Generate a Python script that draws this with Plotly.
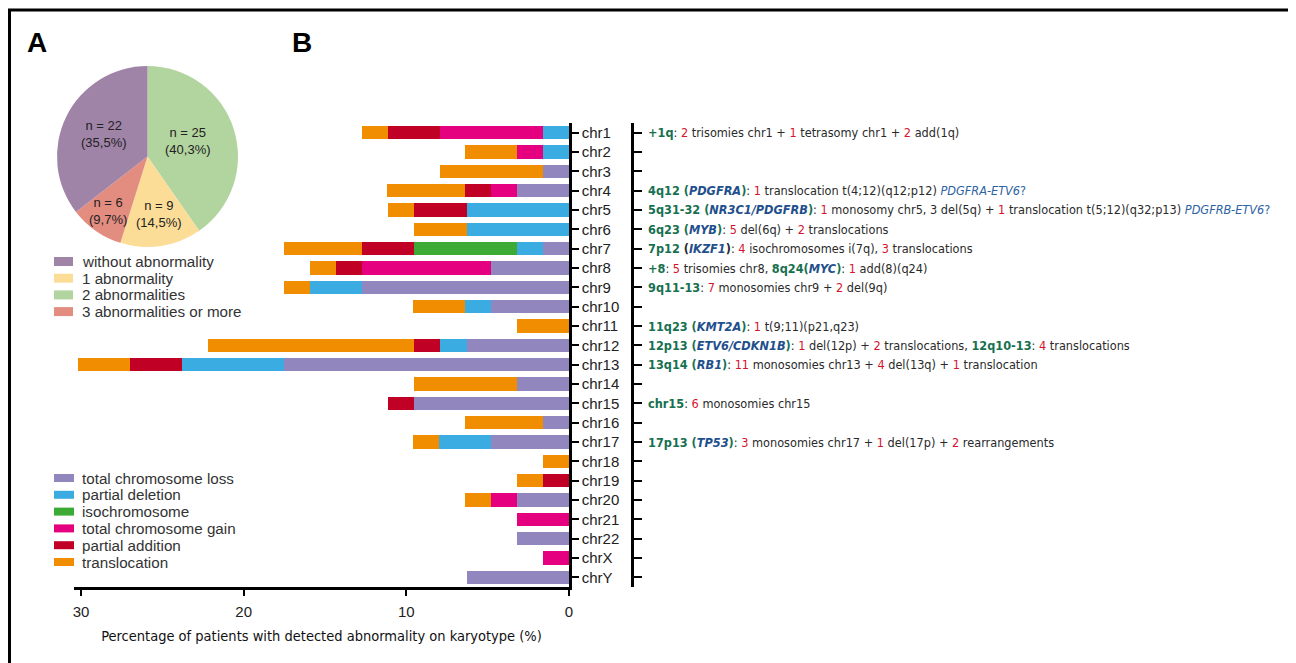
import plotly.graph_objects as go

# The page body has an 8px margin, so the figure is placed at (8, 8) in the window.
OX, OY = 8, 8
W, H = 1288, 655

# ---------------- data ----------------
chromosomes = ['chr1', 'chr2', 'chr3', 'chr4', 'chr5', 'chr6', 'chr7', 'chr8', 'chr9', 'chr10',
               'chr11', 'chr12', 'chr13', 'chr14', 'chr15', 'chr16', 'chr17', 'chr18', 'chr19',
               'chr20', 'chr21', 'chr22', 'chrX', 'chrY']

# percentage of patients per abnormality type
total_loss = [0, 0, 1.6, 3.2, 0, 0, 1.6, 4.8, 12.7, 4.8, 0, 6.3, 17.5, 3.2, 9.5, 1.6, 4.8, 0, 0, 3.2, 0, 3.2, 0, 6.3]
partial_deletion = [1.6, 1.6, 0, 0, 6.3, 6.3, 1.6, 0, 3.2, 1.6, 0, 1.6, 6.3, 0, 0, 0, 3.2, 0, 0, 0, 0, 0, 0, 0]
isochromosome = [0, 0, 0, 0, 0, 0, 6.3, 0, 0, 0, 0, 0, 0, 0, 0, 0, 0, 0, 0, 0, 0, 0, 0, 0]
total_gain = [6.3, 1.6, 0, 1.6, 0, 0, 0, 7.9, 0, 0, 0, 0, 0, 0, 0, 0, 0, 0, 0, 1.6, 3.2, 0, 1.6, 0]
partial_addition = [3.2, 0, 0, 1.6, 3.2, 0, 3.2, 1.6, 0, 0, 0, 1.6, 3.2, 0, 1.6, 0, 0, 0, 1.6, 0, 0, 0, 0, 0]
translocation = [1.6, 3.2, 6.3, 4.8, 1.6, 3.2, 4.8, 1.6, 1.6, 3.2, 3.2, 12.7, 3.2, 6.3, 0, 4.8, 1.6, 1.6, 1.6, 1.6, 0, 0, 0, 0]

bar_series = ['total chromosome loss', 'partial deletion', 'isochromosome',
              'total chromosome gain', 'partial addition', 'translocation']
bar_values = [total_loss, partial_deletion, isochromosome, total_gain, partial_addition, translocation]
bar_colors = ['#9187BE', '#3AACE2', '#3DAA35', '#E4007F', '#C10025', '#F08D00']

pie_labels = ['2 abnormalities', '1 abnormality', '3 abnormalities or more', 'without abnormality']
pie_counts = [25, 9, 6, 22]
pie_pct = ['40,3%', '14,5%', '9,7%', '35,5%']
pie_colors = ['#B2D59F', '#FCDD98', '#E28D80', '#A084A8']
pie_legend_order = ['without abnormality', '1 abnormality', '2 abnormalities', '3 abnormalities or more']

x_ticks = [0, 10, 20, 30]
x_title = 'Percentage of patients with detected abnormality on karyotype (%)'

GREEN = '#17704F'
BLUE = '#1F4F8C'
RED = '#D3142C'
FUS = '#2D63A3'


def g(t):
    return f'<span style="color:{GREEN}"><b>{t}</b></span>'


def gene(t):
    return f'<span style="color:{BLUE}"><b><i>{t}</i></b></span>'


def r(t):
    return f'<span style="color:{RED}">{t}</span>'


def fus(t):
    return f'<span style="color:{FUS}"><i>{t}</i>?</span>'


row_notes = {
    'chr1': g('+1q') + ': ' + r('2') + ' trisomies chr1 + ' + r('1') + ' tetrasomy chr1 + ' + r('2') + ' add(1q)',
    'chr4': g('4q12 (') + gene('PDGFRA') + g(')') + ': ' + r('1') + ' translocation t(4;12)(q12;p12) ' + fus('PDGFRA-ETV6'),
    'chr5': g('5q31-32 (') + gene('NR3C1/PDGFRB') + g(')') + ': ' + r('1') + ' monosomy chr5, 3 del(5q) + ' + r('1') + ' translocation t(5;12)(q32;p13) ' + fus('PDGFRB-ETV6'),
    'chr6': g('6q23 (') + gene('MYB') + g(')') + ': ' + r('5') + ' del(6q) + ' + r('2') + ' translocations',
    'chr7': g('7p12 ') + '<b>(</b>' + gene('IKZF1') + '<b>)</b>: ' + r('4') + ' isochromosomes i(7q), ' + r('3') + ' translocations',
    'chr8': g('+8') + ': ' + r('5') + ' trisomies chr8, ' + g('8q24(') + gene('MYC') + g(')') + ': ' + r('1') + ' add(8)(q24)',
    'chr9': g('9q11-13') + ': ' + r('7') + ' monosomies chr9 + ' + r('2') + ' del(9q)',
    'chr11': g('11q23 (') + gene('KMT2A') + g(')') + ': ' + r('1') + ' t(9;11)(p21,q23)',
    'chr12': g('12p13 (') + gene('ETV6/CDKN1B') + g(')') + ': ' + r('1') + ' del(12p) + ' + r('2') + ' translocations, ' + g('12q10-13') + ': ' + r('4') + ' translocations',
    'chr13': g('13q14 (') + gene('RB1') + g(')') + ': ' + r('11') + ' monosomies chr13 + ' + r('4') + ' del(13q) + ' + r('1') + ' translocation',
    'chr15': g('chr15') + ': ' + r('6') + ' monosomies chr15',
    'chr17': g('17p13 (') + gene('TP53') + g(')') + ': ' + r('3') + ' monosomies chr17 + ' + r('1') + ' del(17p) + ' + r('2') + ' rearrangements',
}


# ---------------- layout helpers (window pixels -> paper fractions) ----------------
def px(x):
    return (x - OX) / W


def py(y):
    return 1 - (y - OY) / H


SANS = 'Liberation Sans, Arimo, Arial, sans-serif'
NARROW = 'DejaVu Sans Condensed, Liberation Sans Narrow, Arial Narrow, sans-serif'

fig = go.Figure()

for name, vals, col in zip(bar_series, bar_values, bar_colors):
    fig.add_trace(go.Bar(
        y=chromosomes, x=vals, name=name, orientation='h',
        marker=dict(color=col, line=dict(width=0)),
        showlegend=False, hoverinfo='x+y+name'))

# helper trace for the secondary (annotation) axis
fig.add_trace(go.Scatter(y=chromosomes, x=[0] * len(chromosomes), yaxis='y2', mode='markers',
                         marker=dict(opacity=0, size=1), showlegend=False, hoverinfo='skip'))

fig.add_trace(go.Pie(
    labels=pie_labels, values=pie_counts, marker=dict(colors=pie_colors, line=dict(width=0)),
    sort=False, direction='clockwise', rotation=0, textinfo='none', showlegend=False,
    domain=dict(x=[px(57), px(238)], y=[py(247), py(66)]), hoverinfo='label+value'))

annotations = []
# pie labels
pie_label_pos = [(188, 140.5), (159, 213.5), (108, 210.5), (104, 134)]
for (cx, cy), n, p in zip(pie_label_pos, pie_counts, pie_pct):
    annotations.append(dict(x=px(cx), y=py(cy), xref='paper', yref='paper', showarrow=False,
                            text=f'n = {n}<br>({p})', font=dict(family=SANS, size=13, color='#222'),
                            xanchor='center', yanchor='middle', align='center'))

shapes = []
# pie legend
for i, lab in enumerate(pie_legend_order):
    yc = 261.5 + i * 16.7
    col = pie_colors[pie_labels.index(lab)]
    shapes.append(dict(type='rect', xref='paper', yref='paper', x0=px(54), x1=px(73),
                       y0=py(yc + 4.5), y1=py(yc - 4.5), fillcolor=col, line=dict(width=0)))
    annotations.append(dict(x=px(80), y=py(yc), xref='paper', yref='paper', showarrow=False,
                            text=lab, font=dict(family=SANS, size=15.2, color='#333'),
                            xanchor='left', yanchor='middle'))
# bar legend
for i, (lab, col) in enumerate(zip(bar_series, bar_colors)):
    yc = 478 + i * 16.8
    shapes.append(dict(type='rect', xref='paper', yref='paper', x0=px(54), x1=px(74),
                       y0=py(yc + 4), y1=py(yc - 4), fillcolor=col, line=dict(width=0)))
    annotations.append(dict(x=px(80), y=py(yc), xref='paper', yref='paper', showarrow=False,
                            text=lab, font=dict(family=SANS, size=15.2, color='#333'),
                            xanchor='left', yanchor='middle'))

# row notes
for chrom, txt in row_notes.items():
    annotations.append(dict(x=px(646), y=chrom, xref='paper', yref='y', showarrow=False,
                            text=txt, font=dict(family=NARROW, size=12.6, color='#2a2a2a'),
                            xanchor='left', yanchor='middle', align='left'))

# panel letters
for letter, cx in (('A', 36.5), ('B', 301.5)):
    annotations.append(dict(x=px(cx), y=py(42.5), xref='paper', yref='paper', showarrow=False,
                            text=f'<b>{letter}</b>', font=dict(family=SANS, size=28, color='#000'),
                            xanchor='center', yanchor='middle'))

# outer frame
shapes.append(dict(type='rect', xref='paper', yref='paper', x0=px(9.5), x1=1.05, y0=-0.05, y1=py(10),
                   line=dict(color='#000', width=3), fillcolor='rgba(0,0,0,0)', layer='above'))

fig.update_layout(
    width=W, height=H, autosize=False,
    margin=dict(l=0, r=0, t=0, b=0),
    paper_bgcolor='white', plot_bgcolor='white',
    barmode='stack', bargap=0.32,
    font=dict(family=SANS, color='#222'),
    xaxis=dict(domain=[px(74), px(569)], range=[30.43, 0], tickvals=x_ticks,
               ticks='outside', ticklen=6, tickwidth=2, tickcolor='#000', ticklabelstandoff=3,
               showline=True, linewidth=2.5, linecolor='#000', showgrid=False, zeroline=False,
               tickfont=dict(family=SANS, size=15, color='#222'), anchor='y',
               title=dict(text=x_title, font=dict(family=NARROW, size=14.5, color='#111'), standoff=13),
               automargin=False, fixedrange=True),
    yaxis=dict(domain=[py(587), py(123)], type='category', categoryorder='array',
               categoryarray=chromosomes, range=[23.5, -0.5], side='right', anchor='x',
               ticks='outside', ticklen=7, tickwidth=2, tickcolor='#000',
               showline=True, linewidth=2.5, linecolor='#000', showgrid=False, zeroline=False,
               tickfont=dict(family=SANS, size=15, color='#222'), automargin=False, fixedrange=True),
    yaxis2=dict(overlaying='y', anchor='free', position=px(632), side='right', type='category',
                categoryorder='array', categoryarray=chromosomes, range=[23.5, -0.5],
                ticks='outside', ticklen=8, tickwidth=2, tickcolor='#000', showticklabels=False,
                showline=True, linewidth=2.5, linecolor='#000', showgrid=False, zeroline=False,
                automargin=False, fixedrange=True),
    annotations=annotations, shapes=shapes,
)

fig.write_html('out.html')
